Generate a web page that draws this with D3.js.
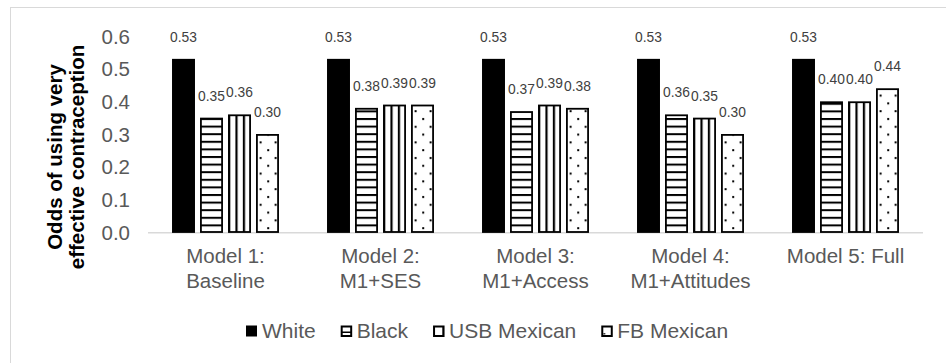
<!DOCTYPE html>
<html>
<head>
<meta charset="utf-8">
<script src="https://cdn.jsdelivr.net/npm/d3@7"></script>
<style>
  html, body { margin: 0; padding: 0; background: #fff; }
  svg { display: block; font-family: "Liberation Sans", Arial, sans-serif; }
</style>
</head>
<body>
<script>
// Odds of using very effective contraception, by model and group
const categories = ["Model 1:\nBaseline", "Model 2:\nM1+SES", "Model 3:\nM1+Access", "Model 4:\nM1+Attitudes", "Model 5: Full"];
const seriesNames = ["White", "Black", "USB Mexican", "FB Mexican"];
const white = [0.53, 0.53, 0.53, 0.53, 0.53];
const black = [0.35, 0.38, 0.37, 0.36, 0.40];
const usbMexican = [0.36, 0.39, 0.39, 0.35, 0.40];
const fbMexican = [0.30, 0.39, 0.38, 0.30, 0.44];
const yTicks = [0, 0.1, 0.2, 0.3, 0.4, 0.5, 0.6];
const yTitle = ["Odds of using very", "effective contraception"];

const seriesValues = [white, black, usbMexican, fbMexican];
const fillKinds = ["solid", "hlines", "vlines", "dots"];

const W = 946, H = 363;
const plot = { left: 148, right: 923, top: 36, bottom: 232 };

const svg = d3.select("body").append("svg").attr("width", W).attr("height", H);
const defs = svg.append("defs");

// chart frame
svg.append("rect")
  .attr("x", 10.5).attr("y", 7.5).attr("width", W + 20).attr("height", H + 20)
  .attr("fill", "#fff").attr("stroke", "#d9d9d9").attr("stroke-width", 1);

const x0 = d3.scaleBand().domain(d3.range(categories.length))
  .range([plot.left, plot.right]).paddingInner(0.31).paddingOuter(0.155);
const x1 = d3.scaleBand().domain(d3.range(seriesNames.length))
  .range([0, x0.bandwidth()]).paddingInner(0.18);
const y = d3.scaleLinear().domain([0, 0.6]).range([plot.bottom, plot.top]);

// fill patterns, anchored to each bar's own left/bottom corner
function makePattern(id, kind, px, py) {
  if (kind === "hlines") {
    const p = defs.append("pattern").attr("id", id).attr("patternUnits", "userSpaceOnUse")
      .attr("x", px).attr("y", py).attr("width", 40).attr("height", 7.6);
    p.append("rect").attr("width", 40).attr("height", 7.6).attr("fill", "#fff");
    p.append("rect").attr("y", 0).attr("width", 40).attr("height", 2).attr("fill", "#000");
  } else if (kind === "vlines") {
    const p = defs.append("pattern").attr("id", id).attr("patternUnits", "userSpaceOnUse")
      .attr("x", px).attr("y", py).attr("width", 7.4).attr("height", 40);
    p.append("rect").attr("width", 7.4).attr("height", 40).attr("fill", "#fff");
    p.append("rect").attr("x", 0).attr("width", 2.2).attr("height", 40).attr("fill", "#000");
  } else if (kind === "dots") {
    const p = defs.append("pattern").attr("id", id).attr("patternUnits", "userSpaceOnUse")
      .attr("x", px).attr("y", py).attr("width", 15).attr("height", 15.6);
    p.append("rect").attr("width", 15).attr("height", 15.6).attr("fill", "#fff");
    p.append("rect").attr("x", 3.6).attr("y", 3).attr("width", 2).attr("height", 2).attr("fill", "#000");
    p.append("rect").attr("x", 11.2).attr("y", 10.8).attr("width", 2).attr("height", 2).attr("fill", "#000");
  }
  return `url(#${id})`;
}

// category axis line
svg.append("line")
  .attr("x1", plot.left).attr("x2", plot.right)
  .attr("y1", y(0) + 0.75).attr("y2", y(0) + 0.75)
  .attr("stroke", "#d9d9d9").attr("stroke-width", 1.5);

// bars
const barData = [];
categories.forEach((c, ci) => {
  seriesValues.forEach((vals, si) => {
    barData.push({ ci, si, v: vals[ci] });
  });
});

const bars = svg.append("g");
barData.forEach(d => {
  const bx = x0(d.ci) + x1(d.si);
  const bw = x1.bandwidth();
  const kind = fillKinds[d.si];
  const fill = kind === "solid" ? "#000" : makePattern(`p${d.ci}_${d.si}`, kind, bx, y(0));
  bars.append("rect")
    .attr("x", bx + 0.9).attr("y", y(d.v) + 0.9)
    .attr("width", bw - 1.8).attr("height", y(0) - y(d.v) - 0.9)
    .attr("fill", fill).attr("stroke", "#000").attr("stroke-width", 1.8);
});

// value labels
svg.append("g").selectAll("text").data(barData).join("text")
  .attr("x", d => x0(d.ci) + x1(d.si) + x1.bandwidth() / 2)
  .attr("y", d => y(d.v) - 17)
  .attr("text-anchor", "middle")
  .attr("font-size", 13.8)
  .attr("fill", "#404040")
  .text(d => d3.format(".2f")(d.v));

// y axis tick labels
const yAxis = svg.append("g").attr("transform", `translate(${plot.left},0)`)
  .call(d3.axisLeft(y).tickValues(yTicks).tickFormat(d3.format(".1f")).tickSize(0).tickPadding(18));
yAxis.select(".domain").remove();
yAxis.attr("font-family", null).attr("font-size", null);
yAxis.selectAll("text")
  .attr("font-size", 20.5)
  .attr("fill", "#595959").attr("dy", "0.35em");

// category labels
const xAxis = svg.append("g").attr("transform", `translate(0,${y(0)})`)
  .call(d3.axisBottom(x0).tickSize(0).tickFormat(() => ""));
xAxis.select(".domain").remove();
xAxis.attr("font-family", null).attr("font-size", null);
xAxis.selectAll(".tick text").each(function (i) {
  const t = d3.select(this)
    .attr("font-size", 20.5)
    .attr("fill", "#595959").attr("y", 31).attr("dy", 0);
  categories[i].split("\n").forEach((line, k) => {
    t.append("tspan").attr("x", 0).attr("dy", k === 0 ? 0 : 25).text(line);
  });
});

// y axis title
const title = svg.append("text")
  .attr("transform", "translate(0,157) rotate(-90)")
  .attr("text-anchor", "middle")
  .attr("font-size", 20.5).attr("font-weight", "bold").attr("fill", "#000");
yTitle.forEach((line, k) => {
  title.append("tspan").attr("x", 0).attr("y", 62 + k * 22).text(line);
});

// legend
const legend = svg.append("g").attr("transform", "translate(246,331)");
let lx = 0;
seriesNames.forEach((name, si) => {
  const kind = fillKinds[si];
  const g = legend.append("g").attr("transform", `translate(${lx},0)`);
  let fill = "#000";
  if (kind !== "solid") {
    const id = `leg${si}`;
    const p = defs.append("pattern").attr("id", id).attr("patternUnits", "userSpaceOnUse")
      .attr("x", 246 + lx).attr("y", 326).attr("width", 11).attr("height", 11);
    p.append("rect").attr("width", 11).attr("height", 11).attr("fill", "#fff");
    if (kind === "hlines") p.append("rect").attr("x", 0).attr("y", 4.5).attr("width", 11).attr("height", 1.5).attr("fill", "#000");
    if (kind === "vlines") p.append("rect").attr("x", 5.5).attr("y", 0).attr("width", 1.5).attr("height", 11).attr("fill", "#000");
    if (kind === "dots") p.append("rect").attr("x", 6).attr("y", 6).attr("width", 1.5).attr("height", 1.5).attr("fill", "#000");
    fill = `url(#${id})`;
  }
  const sq = g.append("rect").attr("fill", fill);
  if (kind === "solid") {
    sq.attr("x", 0).attr("y", -5.5).attr("width", 11).attr("height", 11);
  } else {
    sq.attr("x", 1).attr("y", -4.5).attr("width", 9.5).attr("height", 9.5)
      .attr("stroke", "#000").attr("stroke-width", 2);
  }
  const t = g.append("text").attr("x", 16).attr("y", 0).attr("dy", "0.35em")
    .attr("font-size", 21).attr("fill", "#595959").text(name);
  lx += 16 + t.node().getComputedTextLength() + 25;
});
</script>
</body>
</html>
